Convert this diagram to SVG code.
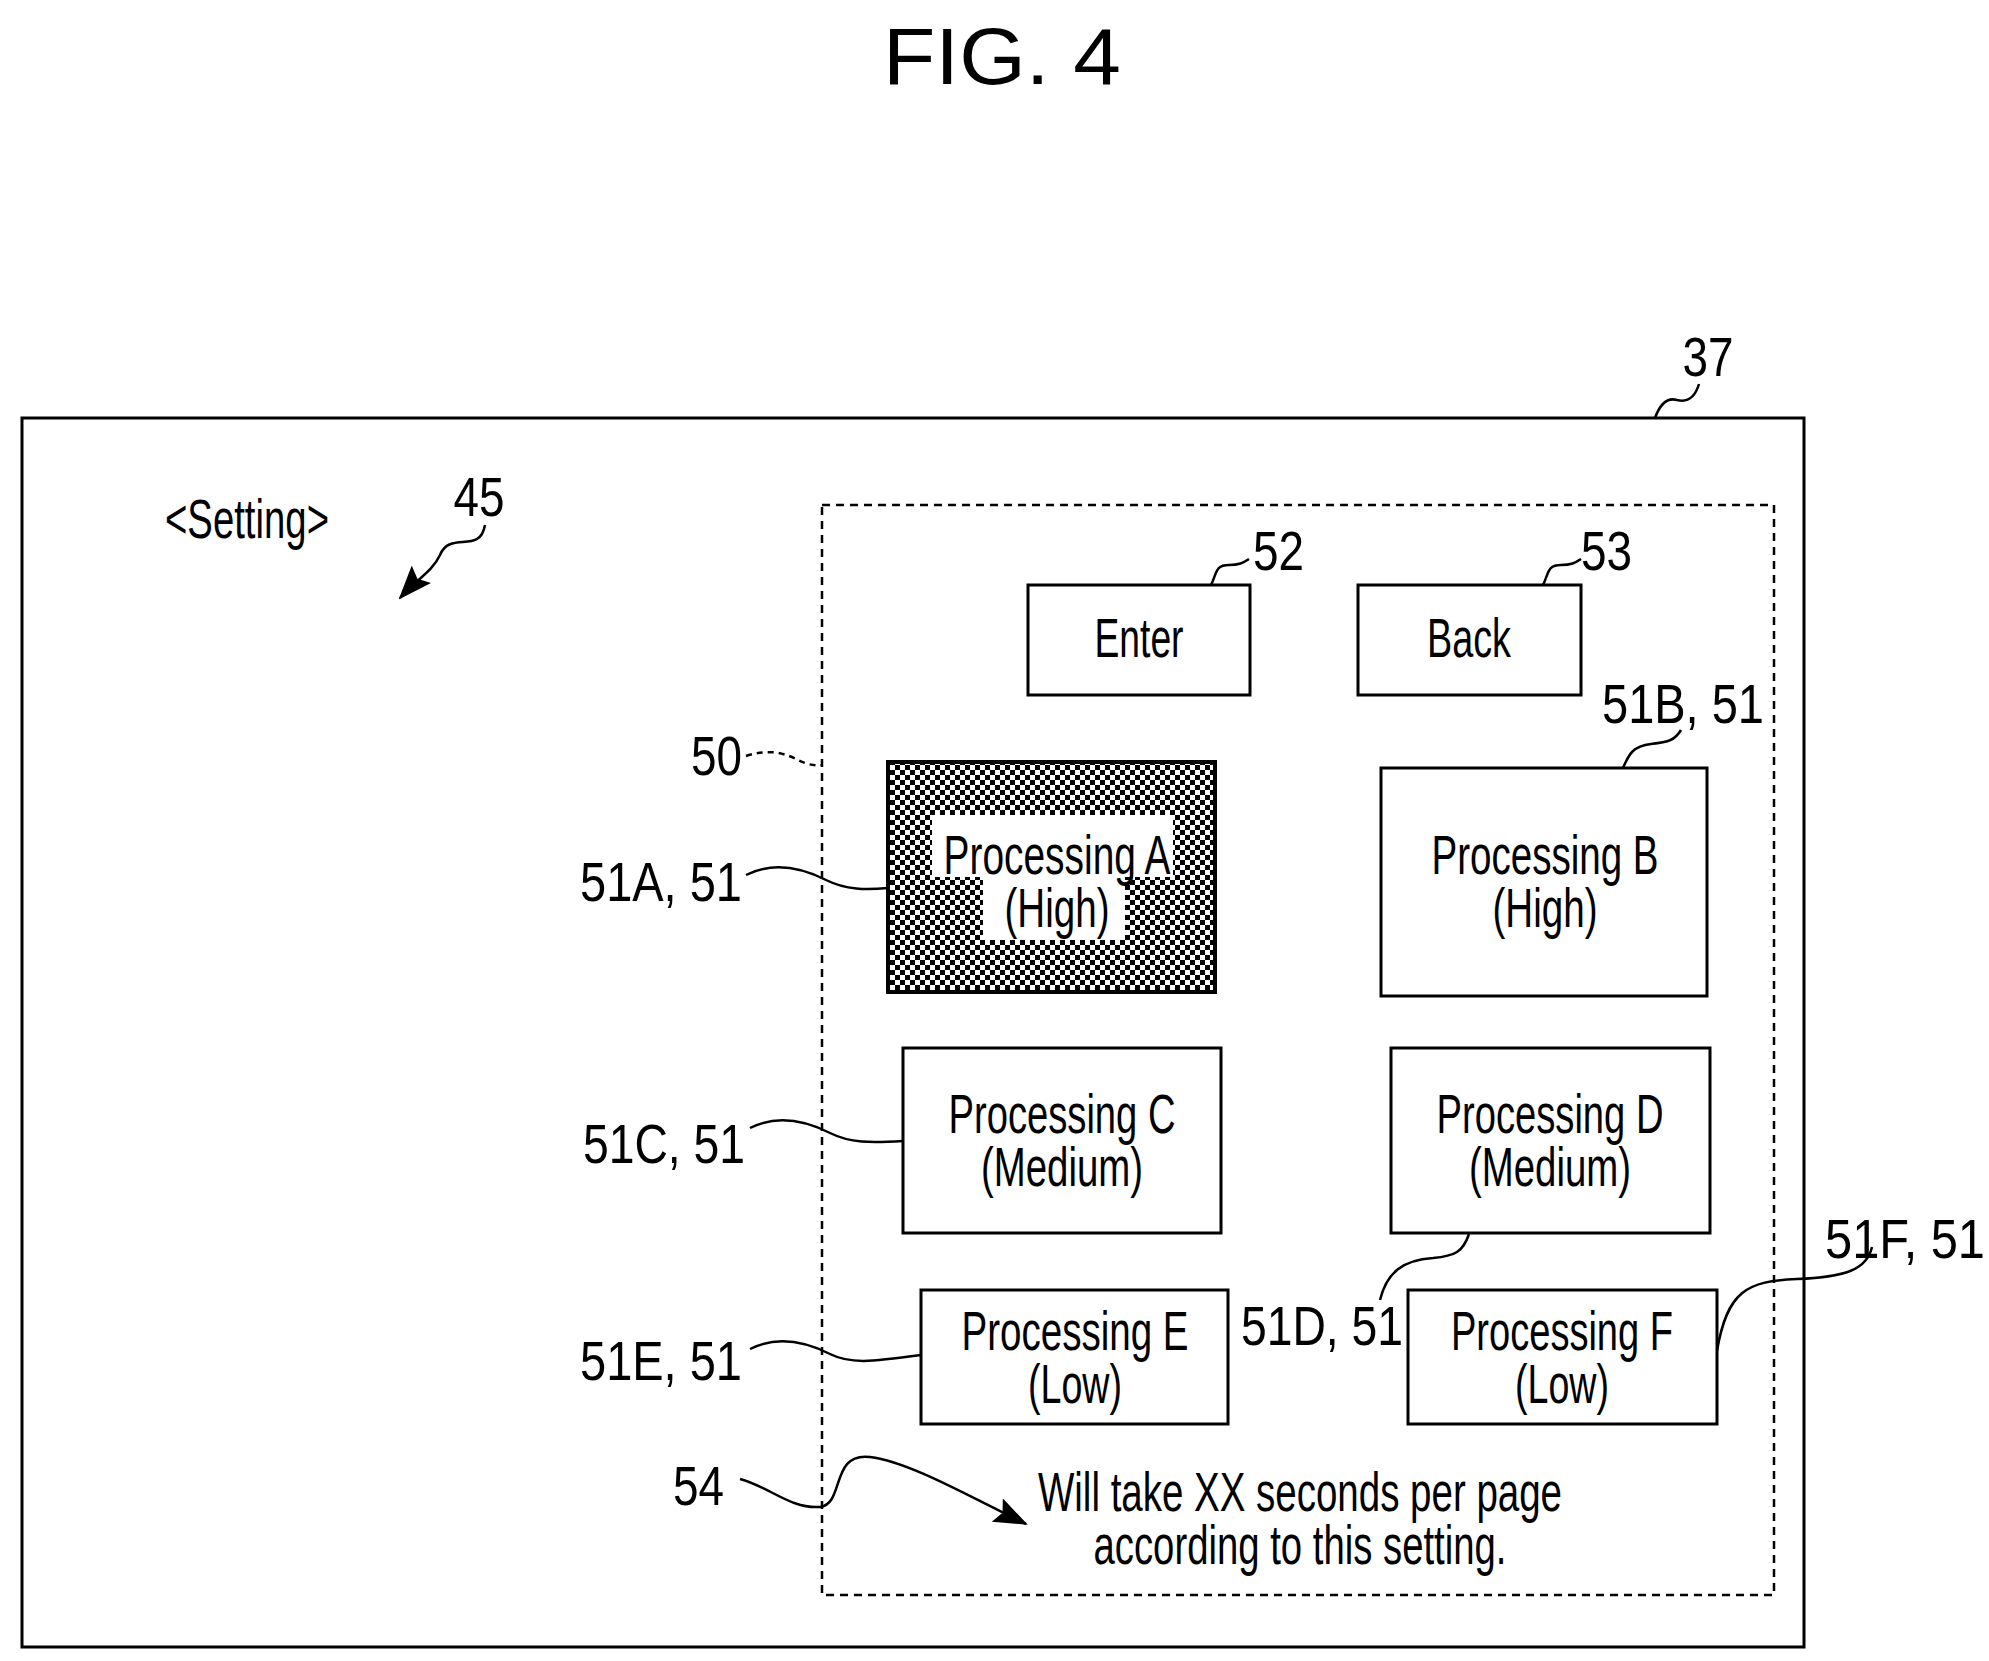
<svg xmlns="http://www.w3.org/2000/svg" width="1989" height="1661" viewBox="0 0 1989 1661">
<style>
text{font-family:"Liberation Sans Narrow","Liberation Sans",Arial,sans-serif;fill:#000;font-size:56px}
.c{text-anchor:middle}.e{text-anchor:end}
.box{fill:#fff;stroke:#000;stroke-width:3}
.ld{fill:none;stroke:#000;stroke-width:2.5}
</style>
<defs>
<pattern id="chk" width="10" height="10" patternUnits="userSpaceOnUse">
<rect width="10" height="10" fill="#fff"/><rect width="5" height="5" fill="#000"/><rect x="5" y="5" width="5" height="5" fill="#000"/>
</pattern>
<marker id="ahb" markerWidth="34" markerHeight="26" refX="32" refY="13" orient="auto" markerUnits="userSpaceOnUse"><path d="M0,0 L34,13 L0,26 L6,13 Z" fill="#000"/></marker>
</defs>
<rect width="1989" height="1661" fill="#fff"/>
<text class="c" x="1002" y="84" style="font-family:'Liberation Sans',Arial,sans-serif;font-size:80px" textLength="238" lengthAdjust="spacingAndGlyphs">FIG. 4</text>
<g id="screen37"><rect x="22" y="418" width="1782" height="1229" fill="none" stroke="#000" stroke-width="3"/></g>
<g id="area50"><rect x="822" y="505" width="952" height="1090" fill="none" stroke="#000" stroke-width="2.5" stroke-dasharray="8,6"/></g>
<text class="c" x="247" y="538" font-size="50" textLength="164" lengthAdjust="spacingAndGlyphs">&lt;Setting&gt;</text>
<g id="enter52"><rect class="box" x="1028" y="585" width="222" height="110"/><text class="c" x="1139" y="657" textLength="89" lengthAdjust="spacingAndGlyphs">Enter</text></g>
<g id="back53"><rect class="box" x="1358" y="585" width="223" height="110"/><text class="c" x="1469" y="657" textLength="84" lengthAdjust="spacingAndGlyphs">Back</text></g>
<g id="p51A"><rect x="888" y="762" width="327" height="230" fill="url(#chk)" stroke="#000" stroke-width="4"/>
<rect x="932" y="815" width="241" height="62" fill="#fff"/><rect x="983" y="870" width="142" height="70" fill="#fff"/>
<text class="c" x="1057" y="874" textLength="227" lengthAdjust="spacingAndGlyphs">Processing A</text><text class="c" x="1057" y="927" textLength="105" lengthAdjust="spacingAndGlyphs">(High)</text></g>
<g id="p51B"><rect class="box" x="1381" y="768" width="326" height="228"/><text class="c" x="1545" y="874" textLength="227" lengthAdjust="spacingAndGlyphs">Processing B</text><text class="c" x="1545" y="927" textLength="105" lengthAdjust="spacingAndGlyphs">(High)</text></g>
<g id="p51C"><rect class="box" x="903" y="1048" width="318" height="185"/><text class="c" x="1062" y="1133" textLength="227" lengthAdjust="spacingAndGlyphs">Processing C</text><text class="c" x="1062" y="1186" textLength="162" lengthAdjust="spacingAndGlyphs">(Medium)</text></g>
<g id="p51D"><rect class="box" x="1391" y="1048" width="319" height="185"/><text class="c" x="1550" y="1133" textLength="227" lengthAdjust="spacingAndGlyphs">Processing D</text><text class="c" x="1550" y="1186" textLength="162" lengthAdjust="spacingAndGlyphs">(Medium)</text></g>
<g id="p51E"><rect class="box" x="921" y="1290" width="307" height="134"/><text class="c" x="1075" y="1350" textLength="227" lengthAdjust="spacingAndGlyphs">Processing E</text><text class="c" x="1075" y="1403" textLength="94" lengthAdjust="spacingAndGlyphs">(Low)</text></g>
<g id="p51F"><rect class="box" x="1408" y="1290" width="309" height="134"/><text class="c" x="1562" y="1350" textLength="222" lengthAdjust="spacingAndGlyphs">Processing F</text><text class="c" x="1562" y="1403" textLength="94" lengthAdjust="spacingAndGlyphs">(Low)</text></g>
<g id="msg54"><text class="c" x="1300" y="1511" textLength="524" lengthAdjust="spacingAndGlyphs">Will take XX seconds per page</text><text class="c" x="1300" y="1564" textLength="413" lengthAdjust="spacingAndGlyphs">according to this setting.</text></g>
<g id="labels">
<text class="c" x="1708" y="376" textLength="51" lengthAdjust="spacingAndGlyphs">37</text>
<text class="c" x="479" y="516" textLength="51" lengthAdjust="spacingAndGlyphs">45</text>
<text x="1253" y="570" textLength="51" lengthAdjust="spacingAndGlyphs">52</text>
<text x="1581" y="570" textLength="51" lengthAdjust="spacingAndGlyphs">53</text>
<text class="c" x="1683" y="723" textLength="162" lengthAdjust="spacingAndGlyphs">51B, 51</text>
<text class="e" x="742" y="775" textLength="51" lengthAdjust="spacingAndGlyphs">50</text>
<text class="e" x="742" y="901" textLength="162" lengthAdjust="spacingAndGlyphs">51A, 51</text>
<text class="e" x="745" y="1163" textLength="162" lengthAdjust="spacingAndGlyphs">51C, 51</text>
<text class="e" x="742" y="1380" textLength="162" lengthAdjust="spacingAndGlyphs">51E, 51</text>
<text x="1241" y="1345" textLength="162" lengthAdjust="spacingAndGlyphs">51D, 51</text>
<text x="1825" y="1258" textLength="160" lengthAdjust="spacingAndGlyphs">51F, 51</text>
<text class="e" x="724" y="1505" textLength="51" lengthAdjust="spacingAndGlyphs">54</text>
</g>
<g id="connectors">
<path class="ld" d="M1655,418 q8,-22 22,-18 q16,4 22,-16"/>
<path class="ld" d="M485,525 C480,555 450,530 440,555 C432,572 418,578 400,598" marker-end="url(#ahb)"/>
<path class="ld" d="M1211,585 c6,-12 4,-20 18,-20 c10,0 14,-2 20,-6"/>
<path class="ld" d="M1543,585 c6,-12 4,-20 18,-20 c10,0 14,-2 20,-6"/>
<path class="ld" d="M1623,768 c6,-14 10,-22 28,-24 c18,-2 24,-4 30,-14"/>
<path class="ld" d="M746,756 c25,-8 40,-2 52,4 c10,5 18,6 24,5" stroke-dasharray="6,5"/>
<path class="ld" d="M746,875 c30,-15 60,-5 80,5 c20,10 40,10 62,8"/>
<path class="ld" d="M750,1128 c30,-15 60,-5 80,5 c20,10 40,10 73,8"/>
<path class="ld" d="M750,1349 c30,-15 60,-5 80,5 c20,10 40,8 91,1"/>
<path class="ld" d="M1469,1234 c-6,18 -14,22 -36,24 c-30,2 -46,14 -53,42"/>
<path class="ld" d="M1717,1351 c10,-60 30,-70 80,-72 c50,-2 70,-10 75,-32"/>
<path class="ld" d="M740,1479 c30,8 50,30 80,28 c25,-3 10,-55 50,-50 c40,5 100,40 156,67" marker-end="url(#ahb)"/>
</g>
</svg>
